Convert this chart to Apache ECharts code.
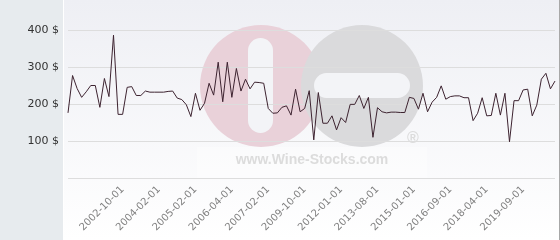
<!DOCTYPE html>
<html>
<head>
<meta charset="utf-8">
<script src="https://cdn.jsdelivr.net/npm/echarts@6/dist/echarts.min.js"></script>
<style>html,body{margin:0;padding:0;background:#fff}#c{width:560px;height:240px}</style>
</head>
<body>
<div id="c"></div>
<script>
// Price values (one per sample)
const values = [
  176, 277, 242, 218, 233, 250, 250, 191, 269, 220,
  386, 172, 172, 245, 247, 223, 223, 235, 232, 232,
  232, 232, 234, 235, 216, 212, 198, 166, 229, 183,
  202, 256, 224, 313, 206, 313, 218, 296, 235, 267,
  241, 259, 258, 256, 188, 175, 176, 191, 195, 170,
  240, 179, 188, 236, 103, 231, 148, 148, 168, 130,
  163, 150, 199, 199, 223, 188, 218, 110, 190, 179,
  176, 178, 178, 177, 177, 218, 215, 186, 229, 179,
  205, 218, 249, 213, 220, 222, 222, 217, 217, 155,
  175, 217, 168, 169, 229, 170, 229, 98, 209, 209,
  238, 240, 168, 197, 267, 283, 241, 262
];
// Visible date labels on the x axis
const tickLabels = [
  '2002-10-01', '2004-02-01', '2005-02-01', '2006-04-01', '2007-02-01', '2009-10-01',
  '2012-01-01', '2013-08-01', '2015-01-01', '2016-09-01', '2018-04-01', '2019-09-01'
];
const yTicks = [0, 100, 200, 300, 400];

const firstLabelIdx = 12, labelEvery = 8;
const categories = values.map((v, i) => {
  const k = (i - firstLabelIdx) / labelEvery;
  return (i >= firstLabelIdx && Number.isInteger(k) && k < tickLabels.length) ? tickLabels[k] : ('#' + i);
});

const chart = echarts.init(document.getElementById('c'), null, {renderer: 'canvas'});
chart.setOption({
  animation: false,
  backgroundColor: '#ffffff',
  grid: {left: 68, right: 5, top: 30, bottom: 62, containLabel: false},
  graphic: {elements: [
    {type: 'rect', z: -100, shape: {x: 0, y: 0, width: 63, height: 240}, style: {fill: '#e7ebee'}},
    {type: 'rect', z: -100, shape: {x: 64, y: 0, width: 495, height: 240},
      style: {fill: new echarts.graphic.LinearGradient(0, 0, 0, 1, [
        {offset: 0, color: '#eeeff4'}, {offset: 1, color: '#ffffff'}])}},
    {type: 'line', z: -100, shape: {x1: 559.5, y1: 0, x2: 559.5, y2: 240}, style: {stroke: '#a8a8a8', lineWidth: 1}},
    {type: 'circle', z: -90, shape: {cx: 261, cy: 86, r: 61}, style: {fill: '#e9d1d9'}},
    {type: 'circle', z: -89, shape: {cx: 362, cy: 86, r: 61}, style: {fill: '#dadadc'}},
    {type: 'rect', z: -88, shape: {x: 248, y: 38, width: 25, height: 95, r: 12.5}, style: {fill: '#f3f4f7'}},
    {type: 'rect', z: -88, shape: {x: 314, y: 73, width: 96, height: 25, r: 12.5}, style: {fill: '#f3f4f7'}},
    {type: 'rect', z: -87, shape: {x: 197, y: 147, width: 230, height: 31}, style: {fill: 'rgba(255,255,255,0.35)'}},
    {type: 'text', z: -86, x: 312, y: 160, style: {text: 'www.Wine-Stocks.com', fill: '#dcdcdc',
      font: 'bold 14px "Liberation Sans", Arial, sans-serif', align: 'center', verticalAlign: 'middle'}},
    {type: 'text', z: -86, x: 413, y: 139, style: {text: '®', fill: '#dcdcdc',
      font: 'bold 16px "Liberation Sans", Arial, sans-serif', align: 'center', verticalAlign: 'middle'}}
  ]},
  xAxis: {
    type: 'category',
    data: categories,
    boundaryGap: false,
    axisLine: {show: false},
    axisTick: {show: false},
    splitLine: {show: false},
    axisLabel: {
      interval: (idx, val) => tickLabels.indexOf(val) >= 0,
      rotate: 45,
      margin: 10,
      color: '#808080',
      fontSize: 10,
      fontFamily: '"DejaVu Sans", sans-serif'
    }
  },
  yAxis: {
    type: 'value',
    min: yTicks[0],
    max: yTicks[yTicks.length - 1],
    interval: yTicks[1] - yTicks[0],
    axisLine: {show: false},
    axisTick: {show: false},
    splitLine: {show: true, lineStyle: {color: '#dddddd', width: 1}},
    axisLabel: {
      showMinLabel: false,
      margin: 9,
      color: '#333333',
      fontSize: 11,
      fontFamily: '"DejaVu Sans", sans-serif',
      formatter: v => v + ' $'
    }
  },
  series: [{
    type: 'line',
    data: values,
    showSymbol: false,
    symbol: 'none',
    lineStyle: {color: '#3d2330', width: 1},
    z: 5
  }]
});
</script>
</body>
</html>
